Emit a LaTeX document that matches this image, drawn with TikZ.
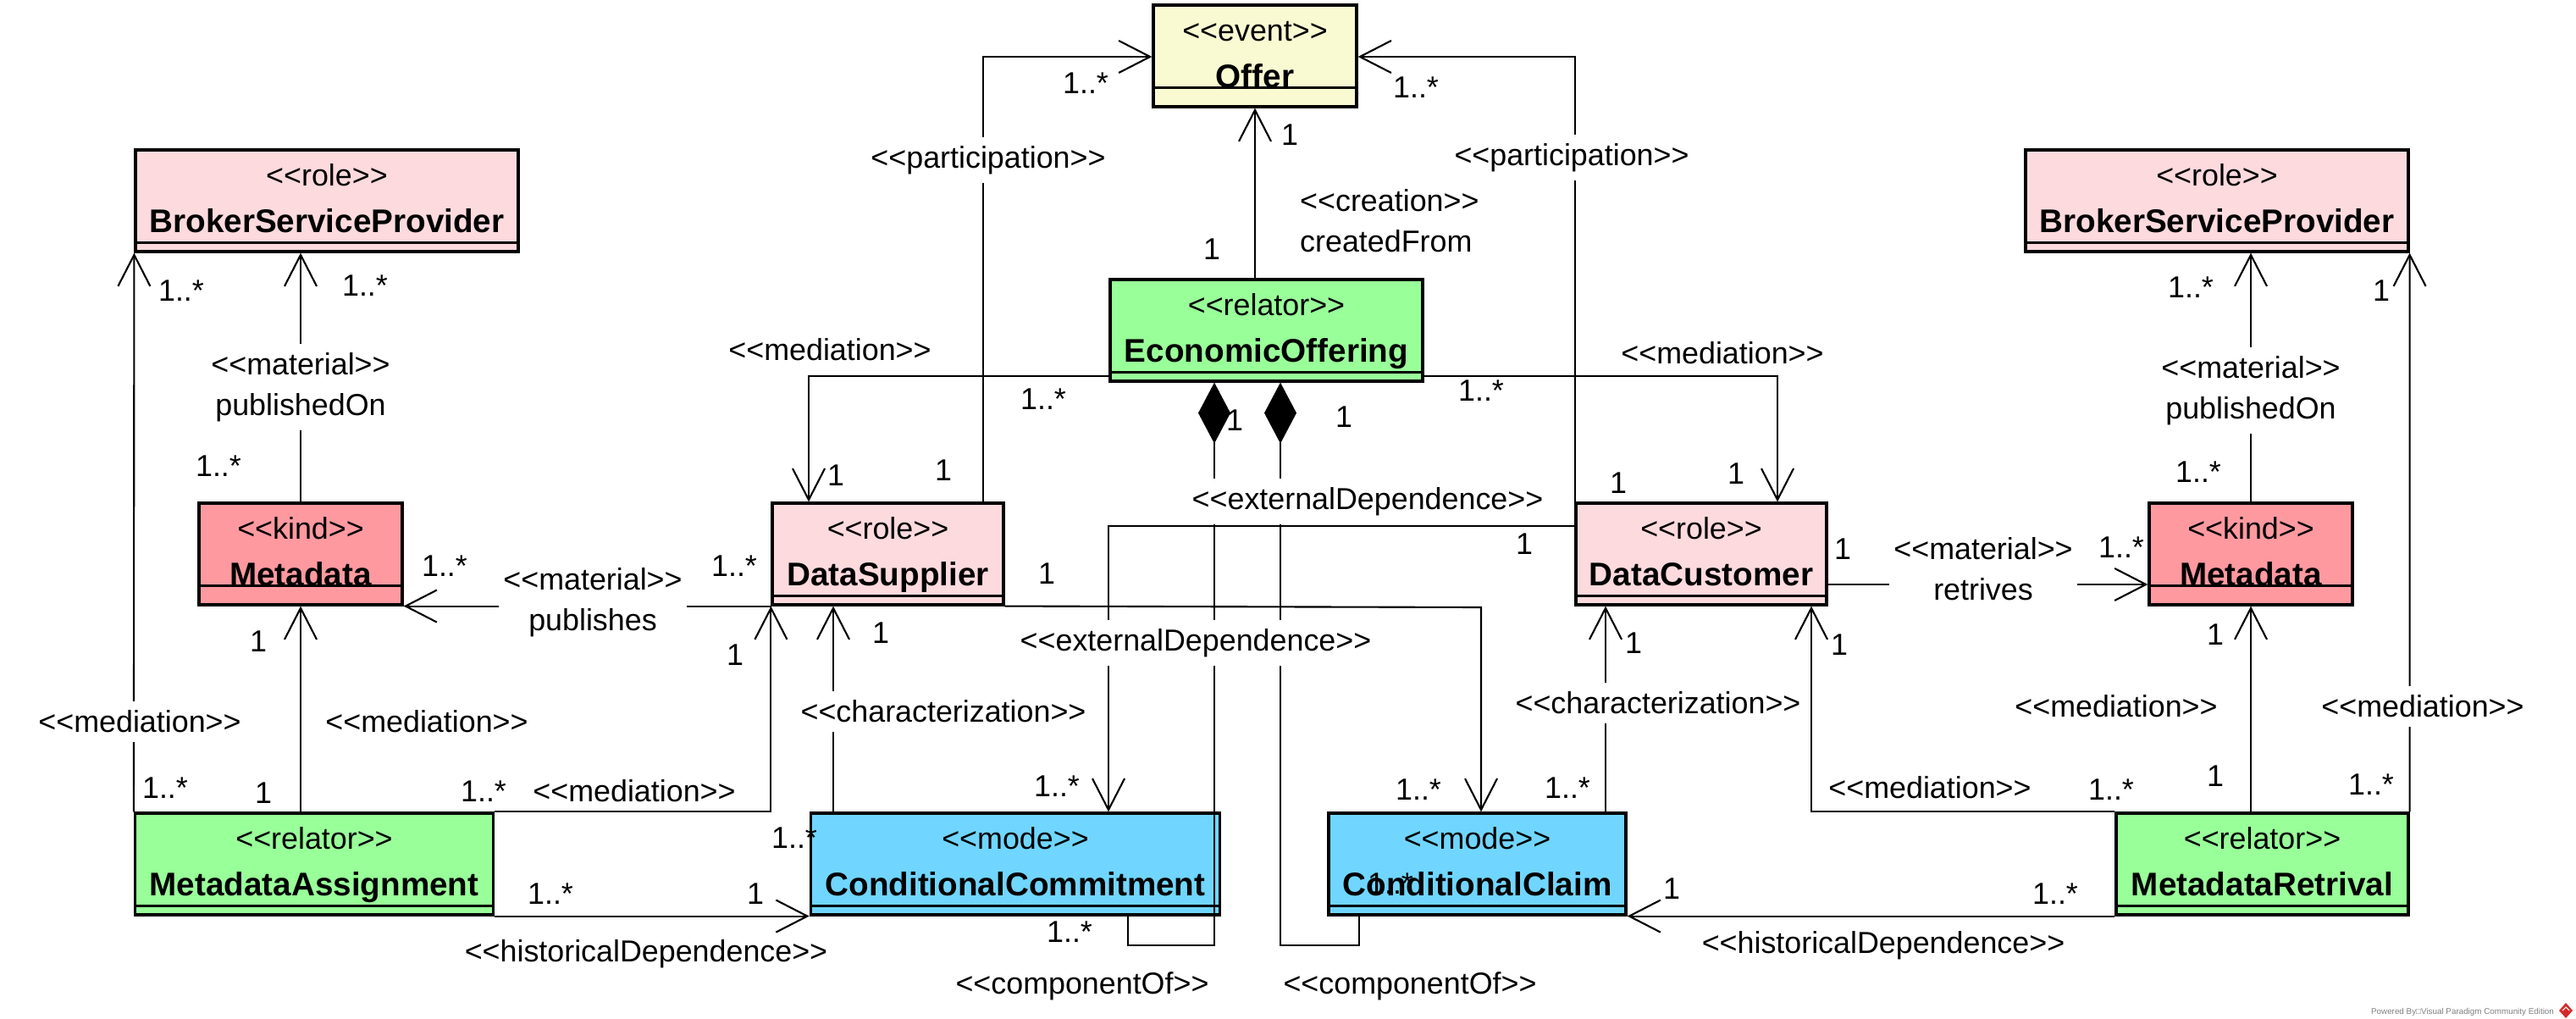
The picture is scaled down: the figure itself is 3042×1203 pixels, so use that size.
\documentclass[tikz,border=0pt]{standalone}
\usepackage{fontspec}
\newfontfamily\vpfont{Liberation Sans}
\usetikzlibrary{arrows.meta}
\definecolor{rolefill}{RGB}{253,218,222}
\definecolor{kindfill}{RGB}{255,153,160}
\definecolor{relfill}{RGB}{153,255,153}
\definecolor{modefill}{RGB}{112,214,255}
\definecolor{eventfill}{RGB}{250,250,210}
\definecolor{vpred}{RGB}{214,40,40}
\newcommand\umlclass[8]{%
  \node[clsbox, fill=#5, minimum width=#4] (#1) at (#2,#3) {};
  \node[stereotxt, anchor=base] (#1-st) at ([yshift=-4.4mm]#1.north) {<<#6>>};
  \node[clsname, anchor=base] (#1-nm) at ([yshift=-9.9mm]#1.north) {#7};
  \draw[clsline] ([yshift=#8]#1.south west) -- ([yshift=#8]#1.south east);
}
\begin{document}
\begin{tikzpicture}[x=0.1mm, y=-0.1mm,
  font=\vpfont\fontsize{10.2}{13.7}\selectfont,
  clsbox/.style={draw, rectangle, line width=0.9pt, minimum height=12mm, inner sep=0pt},
  clsline/.style={line width=0.9pt},
  stereotxt/.style={inner sep=0pt, font=\vpfont\fontsize{10.2}{12}\selectfont},
  clsname/.style={inner sep=0pt, font=\vpfont\fontsize{11}{13}\selectfont\bfseries},
  conn/.style={line width=0.6pt},
  arr/.style={conn, -{Straight Barb[length=3.7mm,width=3.8mm]}},
  comp/.style={conn, {Diamond[length=7.2mm,width=3.8mm]}-},
  lbl/.style={inner sep=1pt, align=center},
  lblw/.style={lbl, fill=white, inner xsep=1.5pt, inner ysep=3pt}
]
\useasboundingbox (0,0) rectangle (3042,1203);
\fill[white] (0,0) rectangle (3042,1203);

% classes
\umlclass{offer}{1482}{66}{24mm}{eventfill}{event}{Offer}{2.4mm}
\umlclass{bspL}{386}{237}{45.2mm}{rolefill}{role}{BrokerServiceProvider}{1.2mm}
\umlclass{bspR}{2618}{237}{45.2mm}{rolefill}{role}{BrokerServiceProvider}{1.2mm}
\umlclass{eo}{1495.5}{390}{36.9mm}{relfill}{relator}{EconomicOffering}{1.2mm}
\umlclass{mdL}{355}{654}{24mm}{kindfill}{kind}{Metadata}{2.4mm}
\umlclass{ds}{1048.5}{654}{27.3mm}{rolefill}{role}{DataSupplier}{1.2mm}
\umlclass{dc}{2009}{654}{29.6mm}{rolefill}{role}{DataCustomer}{1.2mm}
\umlclass{mdR}{2658}{654}{24mm}{kindfill}{kind}{Metadata}{2.4mm}
\umlclass{ma}{371}{1020}{42.3mm}{relfill}{relator}{MetadataAssignment}{1.2mm}
\umlclass{cc}{1199}{1020}{48.35mm}{modefill}{mode}{ConditionalCommitment}{1.2mm}
\umlclass{ccl}{1744.5}{1020}{35.1mm}{modefill}{mode}{ConditionalClaim}{1.2mm}
\umlclass{mr}{2671.5}{1020}{34.5mm}{relfill}{relator}{MetadataRetrival}{1.2mm}

% bend points
\coordinate (p1) at (1161,67);
\coordinate (p2) at (1860,67);
\coordinate (p4) at (955,444);
\coordinate (p5) at (2099,444);
\coordinate (c6a) at (1434,1116);
\coordinate (c6b) at (1332,1116);
\coordinate (c7a) at (1512,1116);
\coordinate (c7b) at (1605,1116);
\coordinate (c8) at (1309,621);
\coordinate (c9) at (1749,717);
\coordinate (c10) at (984,840);
\coordinate (c11) at (1896,830);
\coordinate (c19) at (2139,960);
\coordinate (c23) at (2300,690);

% connectors
\draw[arr] (ds.north -| p1) -- (p1) -- (offer.west |- p1);
\draw[arr] (dc.north -| p2) -- (p2) -- (offer.east |- p2);
\draw[arr] (eo.north -| offer.south) -- (offer.south);
\draw[arr] (eo.west |- p4) -- (p4) -- (ds.north -| p4);
\draw[arr] (eo.east |- p5) -- (p5) -- (dc.north -| p5);
\draw[comp] (eo.south -| c6a) -- (c6a) -- (c6b) -- (cc.south -| c6b);
\draw[comp] (eo.south -| c7a) -- (c7a) -- (c7b) -- (ccl.south -| c7b);
\draw[arr] (dc.west |- c8) -- (c8) -- (cc.north -| c8);
\draw[arr] (ds.south east) -- (c9) -- (ccl.north -| c9);
\draw[arr] (cc.north -| c10) -- (ds.south -| c10);
\draw[arr] (ccl.north -| c11) -- (dc.south -| c11);
\draw[arr] (ma.north east) -| (ds.south west);
\draw[arr] (ma.north -| mdL.south) -- (mdL.south);
\draw[arr] (ma.north west) -- (bspL.south west);
\draw[arr] (mdL.north) -- (bspL.south -| mdL.north);
\draw[arr] (ds.south west) -- (mdL.south east);
\draw[arr] (ma.south east) -- (cc.south west);
\draw[arr] (mr.south west) -- (ccl.south east);
\draw[arr] (mr.north west) -| (dc.south -| c19);
\draw[arr] (mr.north -| mdR.south) -- (mdR.south);
\draw[arr] (mr.north east) -- (bspR.south east);
\draw[arr] (mdR.north) -- (bspR.south -| mdR.north);
\draw[arr] (dc.east |- c23) -- (mdR.west |- c23);

% connector labels (opaque)
\node[lblw] (l1) at (1167,189) {<<participation>>};
\node[lblw] (l2) at (1856,186) {<<participation>>};
\node[lblw] (l3) at (1615,592) {<<externalDependence>>};
\node[lblw] (l4) at (1412,759) {<<externalDependence>>};
\node[lblw] (l5) at (355,457) {<<material>>\\publishedOn};
\node[lblw] (l6) at (2658,461) {<<material>>\\publishedOn};
\node[lblw] (l7) at (700,711) {<<material>>\\publishes};
\node[lblw] (l8) at (2342,672) {<<material>>\\retrives};
\node[lblw] (l9) at (165,852) {<<mediation>>};
\node[lblw] (l10) at (2861,834) {<<mediation>>};
\node[lblw] (l11) at (1114,840) {<<characterization>>};
\node[lblw] (l12) at (1958,830) {<<characterization>>};

% connector labels (plain)
\node[lbl, anchor=west, align=left] (l13) at (1531,261) {<<creation>>\\createdFrom};
\node[lbl] (l14) at (980,413) {<<mediation>>};
\node[lbl] (l15) at (2034,417) {<<mediation>>};
\node[lbl] (l16) at (504,852) {<<mediation>>};
\node[lbl] (l17) at (749,934) {<<mediation>>};
\node[lbl] (l18) at (2499,834) {<<mediation>>};
\node[lbl] (l19) at (2279,930) {<<mediation>>};
\node[lbl] (l20) at (763,1126) {<<historicalDependence>>};
\node[lbl] (l21) at (2224,1116) {<<historicalDependence>>};
\node[lbl] (l22) at (1278,1164) {<<componentOf>>};
\node[lbl] (l23) at (1665,1164) {<<componentOf>>};

% multiplicities
\node[lbl] (m1) at (1282,98) {1..*};
\node[lbl] (m2) at (1672,103) {1..*};
\node[lbl] (m3) at (1523,159) {1};
\node[lbl] (m4) at (1431,294) {1};
\node[lbl] (m5) at (1232,471) {1..*};
\node[lbl] (m6) at (987,561) {1};
\node[lbl] (m7) at (1114,555) {1};
\node[lbl] (m8) at (1749,461) {1..*};
\node[lbl] (m9) at (2050,559) {1};
\node[lbl] (m10) at (1911,570) {1};
\node[lbl] (m11) at (1458,496) {1};
\node[lbl] (m12) at (1587,492) {1};
\node[lbl] (m13) at (1800,642) {1};
\node[lbl] (m14) at (214,343) {1..*};
\node[lbl] (m15) at (431,337) {1..*};
\node[lbl] (m16) at (258,550) {1..*};
\node[lbl] (m17) at (2587,339) {1..*};
\node[lbl] (m18) at (2812,343) {1};
\node[lbl] (m19) at (2596,557) {1..*};
\node[lbl] (m20) at (525,668) {1..*};
\node[lbl] (m21) at (867,668) {1..*};
\node[lbl] (m22) at (1236,677) {1};
\node[lbl] (m23) at (2176,648) {1};
\node[lbl] (m24) at (2505,646) {1..*};
\node[lbl] (m25) at (305,757) {1};
\node[lbl] (m26) at (868,773) {1};
\node[lbl] (m27) at (1040,747) {1};
\node[lbl] (m28) at (1929,759) {1};
\node[lbl] (m29) at (2172,761) {1};
\node[lbl] (m30) at (2616,749) {1};
\node[lbl] (m31) at (195,930) {1..*};
\node[lbl] (m32) at (311,936) {1};
\node[lbl] (m33) at (571,934) {1..*};
\node[lbl] (m34) at (1248,928) {1..*};
\node[lbl] (m35) at (1675,932) {1..*};
\node[lbl] (m36) at (1851,930) {1..*};
\node[lbl] (m37) at (2493,932) {1..*};
\node[lbl] (m38) at (2616,916) {1};
\node[lbl] (m39) at (2800,926) {1..*};
\node[lbl] (m40) at (938,989) {1..*};
\node[lbl] (m41) at (650,1055) {1..*};
\node[lbl] (m42) at (892,1055) {1};
\node[lbl] (m43) at (1263,1100) {1..*};
\node[lbl] (m44) at (1642,1043) {1..*};
\node[lbl] (m45) at (1974,1049) {1};
\node[lbl] (m46) at (2427,1055) {1..*};

% footer
\node[inner sep=0pt, text=gray, font=\vpfont\fontsize{2.8}{3.2}\selectfont] (vp) at (2908,1195) {Powered By□Visual Paradigm Community Edition};
\fill[vpred] (3030,1184) -- (3038,1193) -- (3030,1202) -- (3022,1193) -- cycle;
\draw[white, line width=0.3pt] (3026,1193) -- (3030,1189) -- (3034,1193);
\end{tikzpicture}
\end{document}
